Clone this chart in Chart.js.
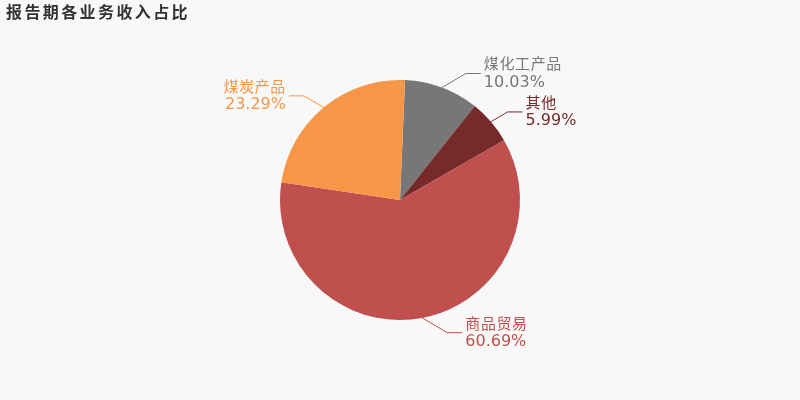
<!DOCTYPE html>
<html>
<head>
<meta charset="utf-8">
<script src="https://cdn.jsdelivr.net/npm/chart.js@4/dist/chart.umd.min.js"></script>
<style>
  html, body { margin: 0; padding: 0; background: #f8f8f8; }
  #wrap { position: relative; width: 800px; height: 400px; }
</style>
</head>
<body>
<div id="wrap"><canvas id="pie" width="800" height="400"></canvas></div>
<script>
// 报告期各业务收入占比
const TITLE = '报告期各业务收入占比';
const categories = ['煤化工产品', '其他', '商品贸易', '煤炭产品'];
const shares = [10.03, 5.99, 60.69, 23.29];
const colors = ['#777777', '#772a2a', '#c0504d', '#f79646'];

const FONT = '"DejaVu Sans", "Noto Sans CJK SC", sans-serif';

// leader lines + two-line labels
const pieLabels = {
  id: 'pieLabels',
  afterDatasetsDraw(chart) {
    const ctx = chart.ctx;
    const meta = chart.getDatasetMeta(0);
    ctx.save();
    meta.data.forEach((arc, i) => {
      const mid = (arc.startAngle + arc.endAngle) / 2;
      const r = arc.outerRadius;
      const cos = Math.cos(mid), sin = Math.sin(mid);
      const right = cos >= 0;
      const dir = right ? 1 : -1;
      const x0 = arc.x + cos * r, y0 = arc.y + sin * r;
      // elbow: y from radius r+15, first segment kept reasonably slanted
      const y1 = arc.y + sin * (r + 15);
      const segDx = Math.max(Math.abs(cos * 15), 1.7 * Math.abs(y1 - y0));
      const x1 = x0 + dir * segDx;
      const x2 = x1 + dir * 15;
      ctx.strokeStyle = colors[i];
      ctx.lineWidth = 1;
      ctx.beginPath();
      ctx.moveTo(x0, y0);
      ctx.lineTo(x1, y1);
      ctx.lineTo(x2, y1);
      ctx.stroke();

      ctx.fillStyle = colors[i];
      ctx.textBaseline = 'middle';
      ctx.textAlign = right ? 'left' : 'right';
      const tx = x2 + dir * 3;
      ctx.font = '15px ' + FONT;
      ctx.letterSpacing = '0.6px';
      ctx.fillText(categories[i], tx, y1 - 8);
      ctx.letterSpacing = '0px';
      ctx.font = '16px ' + FONT;
      ctx.fillText(shares[i].toFixed(2) + '%', tx, y1 + 9);
    });
    // title
    ctx.fillStyle = '#333333';
    ctx.font = 'bold 16px ' + FONT;
    ctx.letterSpacing = '2.4px';
    ctx.textAlign = 'left';
    ctx.textBaseline = 'middle';
    ctx.fillText(TITLE, 6, 14);
    ctx.restore();
  }
};

new Chart(document.getElementById('pie').getContext('2d'), {
  type: 'pie',
  data: {
    labels: categories,
    datasets: [{
      data: shares,
      backgroundColor: colors,
      borderWidth: 0
    }]
  },
  options: {
    responsive: false,
    animation: false,
    rotation: 2.4,
    layout: { padding: { top: 80, bottom: 80 } },
    plugins: {
      legend: { display: false },
      tooltip: { enabled: false }
    }
  },
  plugins: [pieLabels]
});
</script>
</body>
</html>
